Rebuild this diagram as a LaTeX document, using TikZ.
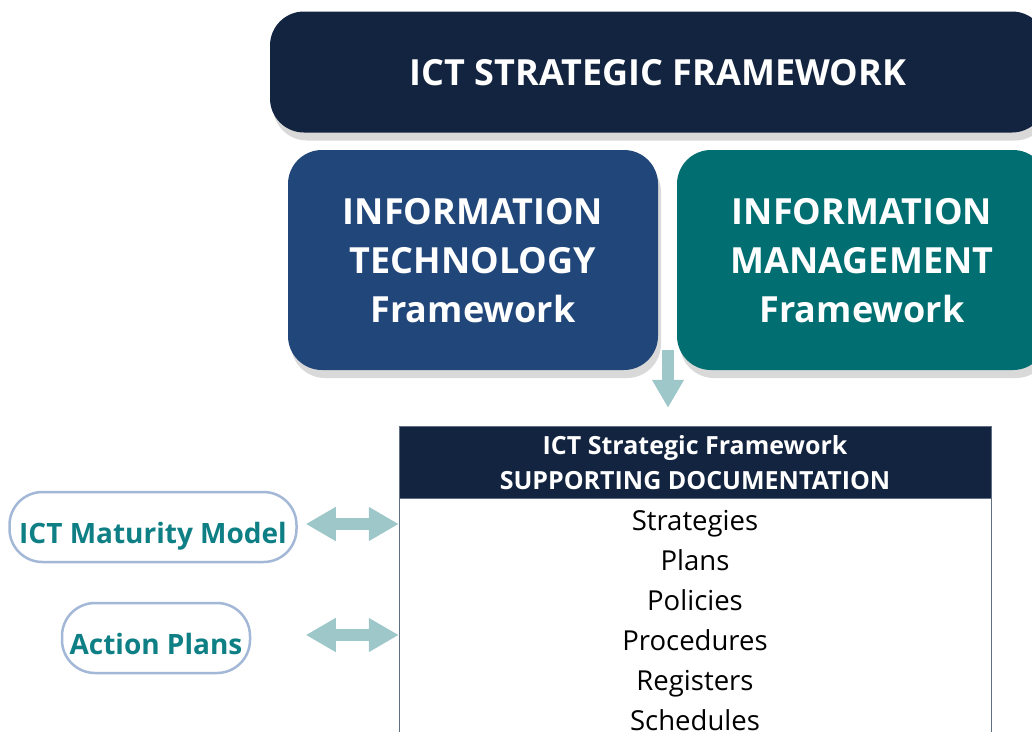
\documentclass[tikz,border=0pt]{standalone}
\usepackage{fontspec}
\setmainfont{Open Sans}
\usetikzlibrary{arrows.meta,positioning,shadows}
\definecolor{navy}{HTML}{12243F}
\definecolor{itblue}{HTML}{21477A}
\definecolor{imteal}{HTML}{016E72}
\definecolor{arrowc}{HTML}{9EC7C9}
\definecolor{pillline}{HTML}{A3B8D6}
\definecolor{pilltext}{HTML}{0E7F84}
\definecolor{tableline}{HTML}{5F6E80}

\begin{document}
\begin{tikzpicture}[x=1pt,y=-1pt,>=Latex,
  bigbox/.style={rounded corners=34pt,text=white,align=center,inner sep=0pt,text depth=-13pt,
    font=\bfseries\fontsize{36}{49}\selectfont,
    drop shadow={shadow xshift=3pt,shadow yshift=-8pt,opacity=0.3}},
  pill/.style={draw=pillline,line width=2.5pt,fill=white,rounded corners=33pt,
    text=pilltext,font=\bfseries\fontsize{28}{30}\selectfont,inner sep=0pt,
    text height=33pt,text depth=0pt},
  flow/.style={draw=arrowc,line width=12pt},
  bothtips/.style={arrows={Triangle[width=32pt,length=30pt]-Triangle[width=32pt,length=30pt]}}]
  % Canvas
  \useasboundingbox (0,0) rectangle (1032,731);
  \clip (0,0) rectangle (1032,731);
  % Frameworks
  \node[bigbox,fill=navy,minimum width=776pt,minimum height=121pt] (top) at (658,72)
    {ICT STRATEGIC FRAMEWORK};
  \node[bigbox,fill=itblue,minimum width=370pt,minimum height=220pt] (itbox) at (473,260)
    {INFORMATION\\TECHNOLOGY\\Framework};
  \node[bigbox,fill=imteal,minimum width=370pt,minimum height=220pt] (imbox) at (862,260)
    {INFORMATION\\MANAGEMENT\\Framework};
  % Supporting documentation table
  \node[draw=tableline,fill=navy,text=white,minimum width=592pt,minimum height=72pt,
    align=center,inner sep=0pt,text depth=-6pt,
    font=\bfseries\fontsize{25}{35}\selectfont] (hdr) at (695,462)
    {ICT Strategic Framework\\SUPPORTING DOCUMENTATION};
  \node[draw=tableline,fill=white,anchor=north,minimum width=592pt,minimum height=270pt,
    align=center,inner xsep=0pt,inner ysep=12pt,
    font=\fontsize{27.5}{40}\selectfont] (body) at (hdr.south)
    {Strategies\\Plans\\Policies\\Procedures\\Registers\\Schedules\\};
  % Side models
  \node[pill,minimum width=287pt,minimum height=70pt] (mm) at (153,527) {ICT Maturity Model};
  \node[pill,minimum width=188pt,minimum height=70pt] (ap) at (156,638) {Action Plans};
  % Arrows
  \coordinate (split) at (668,350);
  \draw[flow,-{Triangle[width=30pt,length=28pt]},shorten >=18pt] (split) -- (split |- hdr.north);
  \draw[flow,bothtips,shorten <=8pt] ([yshift=3pt]mm.east) -- ([yshift=3pt]mm.east -| body.west);
  \draw[flow,bothtips,shorten <=8pt] ([yshift=3pt]ap.east -| mm.east) -- ([yshift=3pt]ap.east -| body.west);
\end{tikzpicture}
\end{document}
